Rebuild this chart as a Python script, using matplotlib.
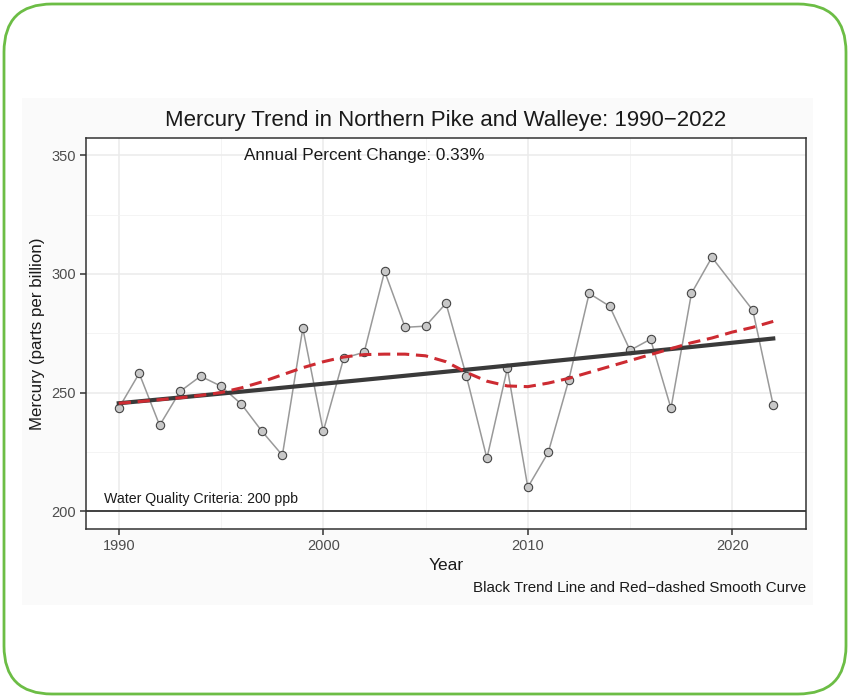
import numpy as np
import matplotlib
matplotlib.use("Agg")
import matplotlib.pyplot as plt
from matplotlib.patches import FancyBboxPatch, Rectangle

plt.rcParams['font.family'] = ['Liberation Sans', 'DejaVu Sans']

# Annual mercury means (ppb), 2020 missing
years = [1990, 1991, 1992, 1993, 1994, 1995, 1996, 1997, 1998, 1999, 2000,
         2001, 2002, 2003, 2004, 2005, 2006, 2007, 2008, 2009, 2010, 2011,
         2012, 2013, 2014, 2015, 2016, 2017, 2018, 2019, 2021, 2022]
mercury = [243.4, 258.1, 236.2, 250.5, 256.9, 252.7, 245.1, 233.7, 223.6, 277.1, 233.7,
           264.5, 267.0, 301.1, 277.5, 278.0, 287.6, 256.9, 222.3, 260.2, 210.1, 224.8,
           255.2, 291.8, 286.4, 267.8, 272.5, 243.4, 291.8, 307.0, 284.7, 244.6]

# red-dashed smooth curve
smooth_years = list(range(1990, 2023))
smooth_vals = [245.5, 246.2, 247.0, 247.8, 248.8, 250.0, 252.0, 254.5, 257.5, 260.5, 263.0,
               265.0, 266.0, 266.2, 266.2, 265.5, 263.0, 258.5, 254.8, 252.8, 252.5, 254.0,
               256.0, 258.5, 261.0, 263.5, 266.0, 268.5, 271.0, 273.0, 275.5, 277.5, 280.0]

# black trend line: start value and annual percent change
trend_start = 245.5
apc = 0.33
criteria = 200
apc_label = "Annual Percent Change: 0.33%"

fig = plt.figure(figsize=(8.5, 6.98), dpi=100)

# background frame: green rounded border and light grey plot image
bg = fig.add_axes([0, 0, 1, 1])
bg.set_xlim(0, 850)
bg.set_ylim(0, 698)
bg.axis("off")
bg.add_patch(FancyBboxPatch((4, 4), 842, 690, boxstyle="round,pad=0,rounding_size=48",
                            fc="white", ec="#6cbd45", lw=2))
bg.add_patch(Rectangle((22, 93), 791, 604 - 97, fc="#fafafa", ec="none"))

ax = fig.add_axes([0.1012, 0.2421, 0.8470, 0.5609])
ax.set_facecolor("white")

ax.set_xlim(1988.4, 2023.6)
ax.set_ylim(192.5, 357.5)
ax.set_xticks([1990, 2000, 2010, 2020])
ax.set_xticks([1995, 2005, 2015], minor=True)
ax.set_yticks([200, 250, 300, 350])
ax.set_yticks([225, 275, 325], minor=True)
ax.grid(which="major", color="#ebebeb", lw=1.1)
ax.grid(which="minor", color="#f2f2f2", lw=0.6)
ax.set_axisbelow(True)
ax.tick_params(which="minor", length=0)
ax.tick_params(which="major", length=4, width=1.1, color="#333333",
               labelcolor="#4d4d4d", labelsize=10.5)
for s in ax.spines.values():
    s.set_color("#333333")
    s.set_linewidth(1.1)

ax.axhline(criteria, color="#333333", lw=1.3)

ax.plot(years, mercury, color="#999999", lw=1.1, zorder=3)
ax.plot(years, mercury, "o", ms=6, mfc="#c8c8c8", mec="#444444", mew=0.8, zorder=4)

fit_x = np.arange(1990, 2023)
fit_y = trend_start * (1 + apc / 100) ** (fit_x - 1990)
ax.plot(fit_x, fit_y, color="#3a3a3a", lw=3, zorder=5)

ax.plot(smooth_years, smooth_vals, color="#cd2b32", lw=2.2, dashes=(4, 2.2), zorder=6)

ax.text(2002, 350, apc_label, ha="center", va="center", fontsize=12.3, color="#1a1a1a")
ax.text(1994, 205, "Water Quality Criteria: 200 ppb", ha="center", va="center",
        fontsize=10.2, color="#1a1a1a")

ax.set_title("Mercury Trend in Northern Pike and Walleye: 1990\u22122022",
             fontsize=16, color="#1a1a1a", pad=8)
ax.set_xlabel("Year", fontsize=12.5, color="#1a1a1a", labelpad=3)
ax.set_ylabel("Mercury (parts per billion)", fontsize=12.2, color="#1a1a1a", labelpad=4)

fig.text(806 / 850, 1 - 588 / 698, "Black Trend Line and Red\u2212dashed Smooth Curve",
         ha="right", va="center", fontsize=10.9, color="#1a1a1a")

fig.savefig("out.png", dpi=100)
